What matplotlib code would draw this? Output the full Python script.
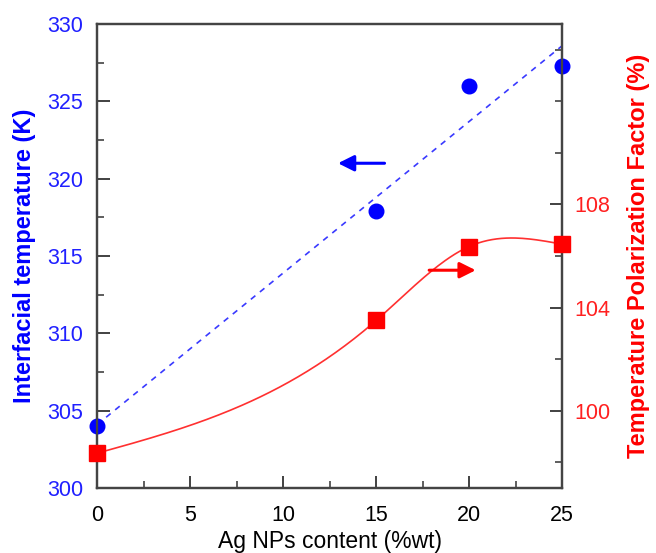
import numpy as np
import matplotlib
matplotlib.use("Agg")
import matplotlib.pyplot as plt
from matplotlib.ticker import MultipleLocator, FixedLocator

plt.rcParams['font.family'] = ['Liberation Sans', 'DejaVu Sans']

# data
content = [0, 15, 20, 25]
interfacial_temp = [304.0, 317.9, 326.0, 327.3]
polarization = [98.35, 103.5, 106.37, 106.46]

x_ticks = [0, 5, 10, 15, 20, 25]
left_ticks = [300, 305, 310, 315, 320, 325, 330]
right_ticks = [100, 104, 108]


def natural_spline(x, y, xs):
    # natural cubic spline through the points
    x = np.asarray(x, float)
    y = np.asarray(y, float)
    n = len(x)
    h = np.diff(x)
    d = np.diff(y) / h
    A = np.zeros((n, n))
    b = np.zeros(n)
    A[0, 0] = A[-1, -1] = 1
    for i in range(1, n - 1):
        A[i, i - 1] = h[i - 1]
        A[i, i] = 2 * (h[i - 1] + h[i])
        A[i, i + 1] = h[i]
        b[i] = 6 * (d[i] - d[i - 1])
    M = np.linalg.solve(A, b)
    out = np.empty_like(xs)
    for k, xv in enumerate(xs):
        i = min(np.searchsorted(x, xv, side='right') - 1, n - 2)
        t0 = x[i + 1] - xv
        t1 = xv - x[i]
        out[k] = (M[i] * t0 ** 3 + M[i + 1] * t1 ** 3) / (6 * h[i]) \
            + (y[i] / h[i] - M[i] * h[i] / 6) * t0 \
            + (y[i + 1] / h[i] - M[i + 1] * h[i] / 6) * t1
    return out


fig = plt.figure(figsize=(6.56, 5.53), dpi=100)
ax = fig.add_axes([0.148, 0.1175, 0.709, 0.839])
ax2 = ax.twinx()

# left axis: temperature, with linear fit
fit = np.polyfit(content, interfacial_temp, 1)
xf = np.linspace(0, 25, 200)
ax.plot(xf, np.polyval(fit, xf), color='#3a3aff', ls=(0, (3.5, 3.5)), lw=1.2)
ax.plot(content, interfacial_temp, 'o', color='#0000ff', ms=10.5, clip_on=False, zorder=5)

# right axis: polarization factor, smooth curve
ax2.plot(xf, natural_spline(content, polarization, xf), color='#ff3030', lw=1.2)
ax2.plot(content, polarization, 's', color='#ff0000', ms=11, clip_on=False, zorder=5)

# arrows
ax.annotate('', xy=(12.8, 321.0), xytext=(15.6, 321.0),
            arrowprops=dict(arrowstyle='-|>', color='#0000ff', lw=2.2, mutation_scale=24))
ax2.annotate('', xy=(20.5, 105.45), xytext=(17.7, 105.45),
             arrowprops=dict(arrowstyle='-|>', color='#ff0000', lw=2.2, mutation_scale=24))

ax.set_xlim(0, 25)
ax.set_ylim(300, 330)
ax2.set_ylim(97, 115)

ax.set_xticks(x_ticks)
ax.xaxis.set_minor_locator(MultipleLocator(2.5))
ax.set_yticks(left_ticks)
ax.yaxis.set_minor_locator(MultipleLocator(2.5))
ax2.set_yticks(right_ticks)
ax2.yaxis.set_minor_locator(FixedLocator([98, 102, 106, 110, 112, 114]))

ax.tick_params(axis='both', which='major', direction='in', length=9, width=1.3,
               color='#333333', labelsize=15.5)
ax.tick_params(axis='x', which='major', pad=12)
ax.tick_params(axis='y', which='major', pad=10, labelcolor='#2020ff')
ax.tick_params(axis='both', which='minor', direction='in', length=5, width=1.1, color='#333333')
ax.tick_params(top=False, which='both')
ax2.tick_params(axis='y', which='major', direction='in', length=9, width=1.3,
                color='#333333', labelsize=15.5, labelcolor='#ff2020', pad=9)
ax2.tick_params(axis='y', which='minor', direction='in', length=5, width=1.1, color='#333333')

for a in (ax, ax2):
    for s in a.spines.values():
        s.set_color('#444444')
        s.set_linewidth(1.6)

ax.set_xlabel('Ag NPs content (%wt)', fontsize=16.5, labelpad=3)
ax.set_ylabel('Interfacial temperature (K)', fontsize=17, fontweight='bold',
              color='#0000ff', labelpad=8)
ax2.set_ylabel('Temperature Polarization Factor (%)', fontsize=17, fontweight='bold',
               color='#ff0000', labelpad=12)

fig.savefig('out.png', dpi=100)
